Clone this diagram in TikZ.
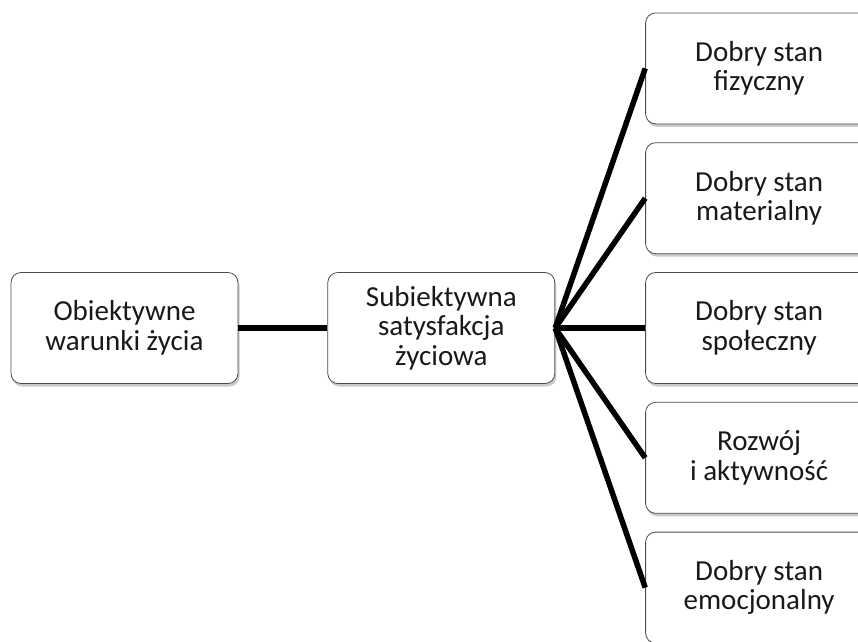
\documentclass[tikz,border=0pt]{standalone}
\usepackage{fontspec}
\setmainfont{Carlito}
\usetikzlibrary{positioning,shadows}

\begin{document}
\begin{tikzpicture}[
    x=1pt, y=-1pt,
    node distance=18pt,
    box/.style={draw=black!70, line width=0.8pt, rounded corners=10pt, fill=white,
                align=center, minimum width=227pt, minimum height=111pt,
                text=black!90, font=\fontsize{29}{29.5}\selectfont,
                drop shadow={shadow xshift=1.5pt, shadow yshift=-3pt,
                             opacity=0.35, fill=black!60}},
    link/.style={line width=5.5pt, black}
]
\useasboundingbox (0,0) rectangle (858,641);
\clip (0,0) rectangle (858,641);

\node[box] (obj) at (124.5,328) {Obiektywne\\warunki życia};
\node[box, right=89pt of obj] (subj) {Subiektywna\\satysfakcja\\życiowa};

\node[box, right=90pt of subj] (spol) {Dobry stan\\społeczny};
\node[box, above=of spol] (mat)  {Dobry stan\\materialny};
\node[box, above=of mat]  (fiz)  {Dobry stan\\fizyczny};
\node[box, below=of spol] (rozw) {Rozwój\\i aktywność};
\node[box, below=of rozw] (emo)  {Dobry stan\\emocjonalny};

\draw[link] (obj.east) -- (subj.west);
\foreach \target in {fiz,mat,spol,rozw,emo}
    \draw[link] (subj.east) -- (\target.west);
\end{tikzpicture}
\end{document}
